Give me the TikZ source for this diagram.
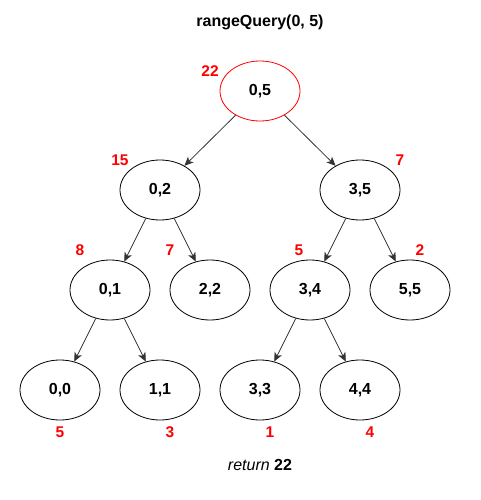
\documentclass[tikz,border=0pt]{standalone}
\usepackage{fontspec}
\setmainfont{Liberation Sans}
\usetikzlibrary{arrows.meta,shapes.geometric}
\definecolor{edgegray}{HTML}{333333}
\definecolor{numred}{HTML}{FF0000}
\begin{document}
\begin{tikzpicture}[x=1pt,y=-1pt,
  tnode/.style={draw=black, ellipse, minimum width=80pt, minimum height=60pt, inner sep=0pt, line width=0.8pt, font=\fontsize{16}{18}\selectfont\bfseries},
  rootnode/.style={tnode, draw=numred},
  num/.style={text=numred, font=\fontsize{15.5}{17}\selectfont\bfseries},
  edge/.style={draw=edgegray, line width=0.8pt, -{Stealth[length=9pt,width=8pt,inset=2.5pt]}}
]
\useasboundingbox (0,0) rectangle (480,500);
\node[font=\fontsize{16}{18}\selectfont\bfseries] (title) at (260,22) {rangeQuery(0, 5)};
\node[rootnode] (r) at (260,91) {0,5};
\node[tnode] (n02) at (160,190) {0,2};
\node[tnode] (n35) at (360,190) {3,5};
\node[tnode] (n01) at (110,290) {0,1};
\node[tnode] (n22) at (210,290) {2,2};
\node[tnode] (n34) at (310,290) {3,4};
\node[tnode] (n55) at (410,290) {5,5};
\node[tnode] (n00) at (60,390) {0,0};
\node[tnode] (n11) at (160,390) {1,1};
\node[tnode] (n33) at (260,390) {3,3};
\node[tnode] (n44) at (360,390) {4,4};
\draw[edge] (r) -- (n02);
\draw[edge] (r) -- (n35);
\draw[edge] (n02) -- (n01);
\draw[edge] (n02) -- (n22);
\draw[edge] (n35) -- (n34);
\draw[edge] (n35) -- (n55);
\draw[edge] (n01) -- (n00);
\draw[edge] (n01) -- (n11);
\draw[edge] (n34) -- (n33);
\draw[edge] (n34) -- (n44);
\node[num] (v05) at (210,71) {22};
\node[num] (v02) at (120,160) {15};
\node[num] (v35) at (400,160) {7};
\node[num] (v01) at (80,250) {8};
\node[num] (v22) at (170,250) {7};
\node[num] (v34) at (299,250) {5};
\node[num] (v55) at (420,250) {2};
\node[num] (v00) at (60,432) {5};
\node[num] (v11) at (170,432) {3};
\node[num] (v33) at (270,432) {1};
\node[num] (v44) at (370,432) {4};
\node[font=\fontsize{16}{18}\selectfont] (ret) at (260,465) {\textit{return} \textbf{22}};
\end{tikzpicture}
\end{document}
